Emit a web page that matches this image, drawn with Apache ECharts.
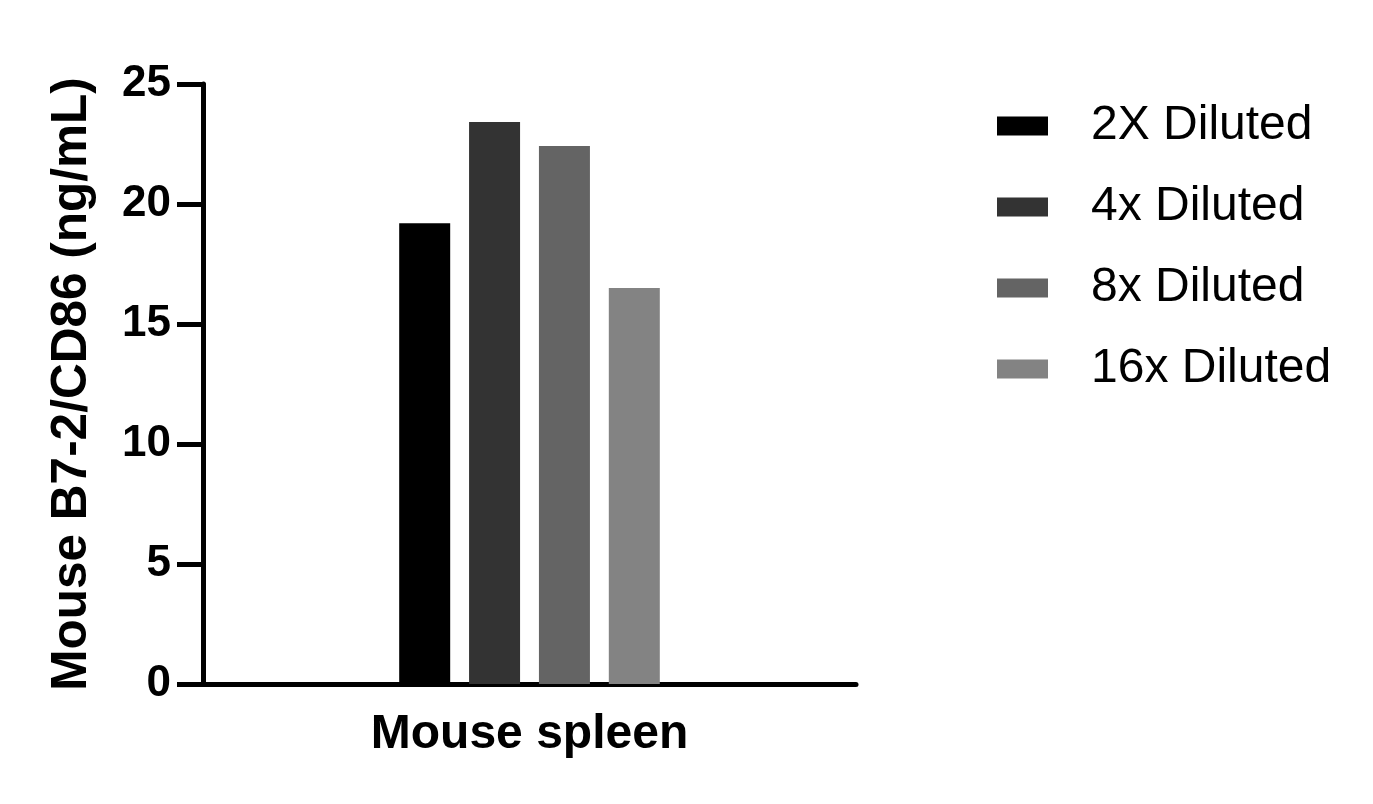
<!DOCTYPE html>
<html>
<head>
<meta charset="utf-8">
<script src="https://cdn.jsdelivr.net/npm/echarts@6/dist/echarts.min.js"></script>
<style>
html,body{margin:0;padding:0;background:#fff;}
#main{width:1373px;height:804px;}
</style>
</head>
<body>
<div id="main"></div>
<script>
const categories = ['Mouse spleen'];
const seriesNames = ['2X Diluted', '4x Diluted', '8x Diluted', '16x Diluted'];
const values2x = [19.2];
const values4x = [23.42];
const values8x = [22.42];
const values16x = [16.5];
const colors = ['#000000', '#333333', '#646464', '#838383'];
const yTitle = 'Mouse B7-2/CD86 (ng/mL)';

const FONT = "'Liberation Sans', Arial, Helvetica, sans-serif";
const seriesData = [values2x, values4x, values8x, values16x];

const chart = echarts.init(document.getElementById('main'), null, {renderer: 'canvas'});
chart.setOption({
  animation: false,
  backgroundColor: '#ffffff',
  grid: {left: 203, right: 517, top: 84, bottom: 120, containLabel: false},
  legend: {
    orient: 'vertical',
    left: 992,
    top: 96,
    itemWidth: 51,
    itemHeight: 19,
    itemGap: 31,
    icon: 'rect',
    textStyle: {fontFamily: FONT, fontSize: 48, color: '#000', lineHeight: 50, padding: [0, 0, 0, 38]},
    data: seriesNames
  },
  xAxis: {
    type: 'category',
    data: categories,
    axisLine: {lineStyle: {color: '#000', width: 5}},
    axisTick: {show: false},
    axisLabel: {fontFamily: FONT, fontSize: 48, fontWeight: 'bold', color: '#000', margin: 27}
  },
  yAxis: {
    type: 'value',
    min: 0, max: 25, interval: 5,
    name: yTitle,
    nameLocation: 'middle',
    nameGap: 106,
    nameRotate: 90,
    nameTextStyle: {fontFamily: FONT, fontSize: 49.5, fontWeight: 'bold', color: '#000'},
    axisLine: {show: true, lineStyle: {color: '#000', width: 5}},
    axisTick: {show: true, length: 26, lineStyle: {color: '#000', width: 5}},
    axisLabel: {fontFamily: FONT, fontSize: 44, fontWeight: 'bold', color: '#000', margin: 32},
    splitLine: {show: false}
  },
  series: seriesNames.map((n, i) => ({
    name: n,
    type: 'bar',
    data: seriesData[i],
    barWidth: 51,
    barGap: '37%',
    itemStyle: {color: colors[i]}
  }))
});
</script>
</body>
</html>
